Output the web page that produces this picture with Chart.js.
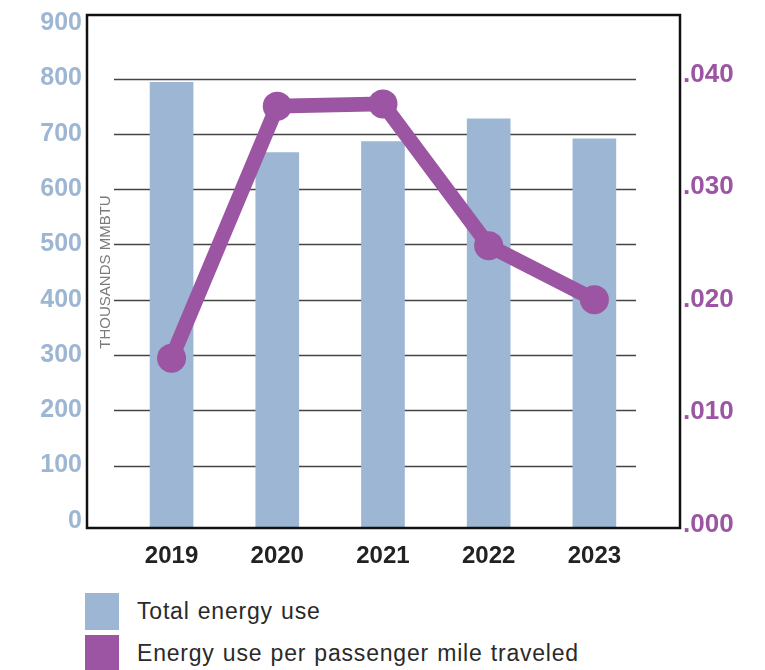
<!DOCTYPE html>
<html>
<head>
<meta charset="utf-8">
<script src="https://cdn.jsdelivr.net/npm/chart.js@4"></script>
<style>
    body { margin: 0; background: #fff; font-family: 'Liberation Sans', Arial, sans-serif; }
    #wrap { position: relative; width: 765px; height: 670px; }
    #legend { position: absolute; left: 85px; top: 590px; }
    .lg-item { display: flex; align-items: center; height: 42px; font-size: 23px; letter-spacing: 0.8px; word-spacing: 1px; color: #2a2a2a; }
    .lg-box { width: 34px; height: 37px; margin-right: 18px; }
</style>
</head>
<body>
<div id="wrap">
    <canvas id="cEnergy" width="765" height="580"></canvas>
    <div id="legend"></div>
</div>
<script>
// ===== Energy use — bars (thousands MMBtu) + line (per passenger mile) =====
const YEARS = [2019, 2020, 2021, 2022, 2023];
const TOTAL_ENERGY = [793, 666, 686, 727, 691];
const PER_PASSENGER_MILE = [0.0148, 0.0372, 0.0374, 0.0248, 0.0200];
const LEFT_TICKS = [0, 100, 200, 300, 400, 500, 600, 700, 800, 900];
const RIGHT_TICKS = [0, 0.01, 0.02, 0.03, 0.04];
const GRID_VALUES = [100, 200, 300, 400, 500, 600, 700, 800];
const SERIES_LABELS = ['Total energy use', 'Energy use per passenger mile traveled'];

const BLUE = '#9cb6d3';
const PURPLE = '#9b55a2';
const LEFT_MIN = -13;
const FONT = '"Liberation Sans", Arial, sans-serif';

// gridlines stop short of the frame, frame drawn on all four sides
const framePlugin = {
    id: 'frame',
    beforeDatasetsDraw(chart) {
        const { ctx, chartArea: a, scales } = chart;
        ctx.save();
        ctx.strokeStyle = '#444';
        ctx.lineWidth = 1.4;
        GRID_VALUES.forEach(v => {
            const y = Math.round(scales.y.getPixelForValue(v)) + 0.5;
            ctx.beginPath();
            ctx.moveTo(a.left + 27, y);
            ctx.lineTo(a.right - 44, y);
            ctx.stroke();
        });
        // axis note
        ctx.translate(a.left + 19, a.top + 257);
        ctx.rotate(-Math.PI / 2);
        ctx.fillStyle = '#7a7a7a';
        ctx.font = '15px ' + FONT;
        ctx.textAlign = 'center';
        ctx.textBaseline = 'middle';
        ctx.fillText('THOUSANDS MMBTU', 0, 0);
        ctx.restore();
    },
    afterDraw(chart) {
        const { ctx, chartArea: a } = chart;
        ctx.save();
        ctx.strokeStyle = '#111';
        ctx.lineWidth = 2.5;
        ctx.strokeRect(a.left, a.top, a.right - a.left, a.bottom - a.top);
        ctx.restore();
    }
};

// fixed axis widths, no extra room reserved for end labels
const fitY = w => s => { s.width = w; s.paddingTop = 0; s.paddingBottom = 0; };

const ctx = document.getElementById('cEnergy').getContext('2d');
const chart = new Chart(ctx, {
    data: {
        datasets: [
            {
                type: 'line', label: SERIES_LABELS[1], yAxisID: 'y2', order: 0,
                data: YEARS.map((x, i) => ({ x, y: PER_PASSENGER_MILE[i] })),
                borderColor: PURPLE, backgroundColor: PURPLE,
                borderWidth: 15, pointRadius: 14.5, pointBackgroundColor: PURPLE,
                pointBorderWidth: 0, tension: 0,
                borderCapStyle: 'round', borderJoinStyle: 'round'
            },
            {
                type: 'bar', label: SERIES_LABELS[0], yAxisID: 'y', order: 1,
                data: YEARS.map((x, i) => ({ x, y: TOTAL_ENERGY[i] })),
                backgroundColor: BLUE, borderWidth: 0,
                barThickness: 43, base: LEFT_MIN
            }
        ]
    },
    options: {
        responsive: false, animation: false, devicePixelRatio: 1,
        layout: { padding: { top: 15 } },
        scales: {
            x: {
                type: 'linear', min: 2018.2, max: 2023.81, offset: false,
                afterBuildTicks: s => { s.ticks = YEARS.map(v => ({ value: v })); },
                afterFit: s => { s.height = 52; s.paddingLeft = 0; s.paddingRight = 0; },
                grid: { display: false, drawTicks: false, offset: false }, border: { display: false },
                ticks: {
                    padding: 14, color: '#222', callback: v => String(v),
                    font: { family: FONT, size: 24, weight: 'bold' }
                }
            },
            y: {
                position: 'left', min: LEFT_MIN, max: 915,
                afterBuildTicks: s => { s.ticks = LEFT_TICKS.map(v => ({ value: v })); },
                afterFit: fitY(87),
                grid: { display: false, drawTicks: false }, border: { display: false },
                ticks: {
                    padding: 5, color: BLUE,
                    font: { family: FONT, size: 25, weight: 'bold' }
                }
            },
            y2: {
                position: 'right', min: -0.0003, max: 0.0453,
                afterBuildTicks: s => { s.ticks = RIGHT_TICKS.map(v => ({ value: v })); },
                afterFit: fitY(85),
                grid: { display: false, drawTicks: false }, border: { display: false },
                ticks: {
                    padding: 3, color: PURPLE,
                    callback: v => '.' + v.toFixed(3).split('.')[1],
                    font: { family: FONT, size: 26, weight: 'bold' }
                }
            }
        },
        plugins: {
            legend: { display: false },
            tooltip: { enabled: false }
        }
    },
    plugins: [framePlugin]
});

// ===== HTML legend, bar first =====
const legendEl = document.getElementById('legend');
[chart.data.datasets[1], chart.data.datasets[0]].forEach(ds => {
    const row = document.createElement('div');
    row.className = 'lg-item';
    const box = document.createElement('span');
    box.className = 'lg-box';
    box.style.background = ds.backgroundColor;
    row.appendChild(box);
    row.appendChild(document.createTextNode(ds.label));
    legendEl.appendChild(row);
});
</script>
</body>
</html>
